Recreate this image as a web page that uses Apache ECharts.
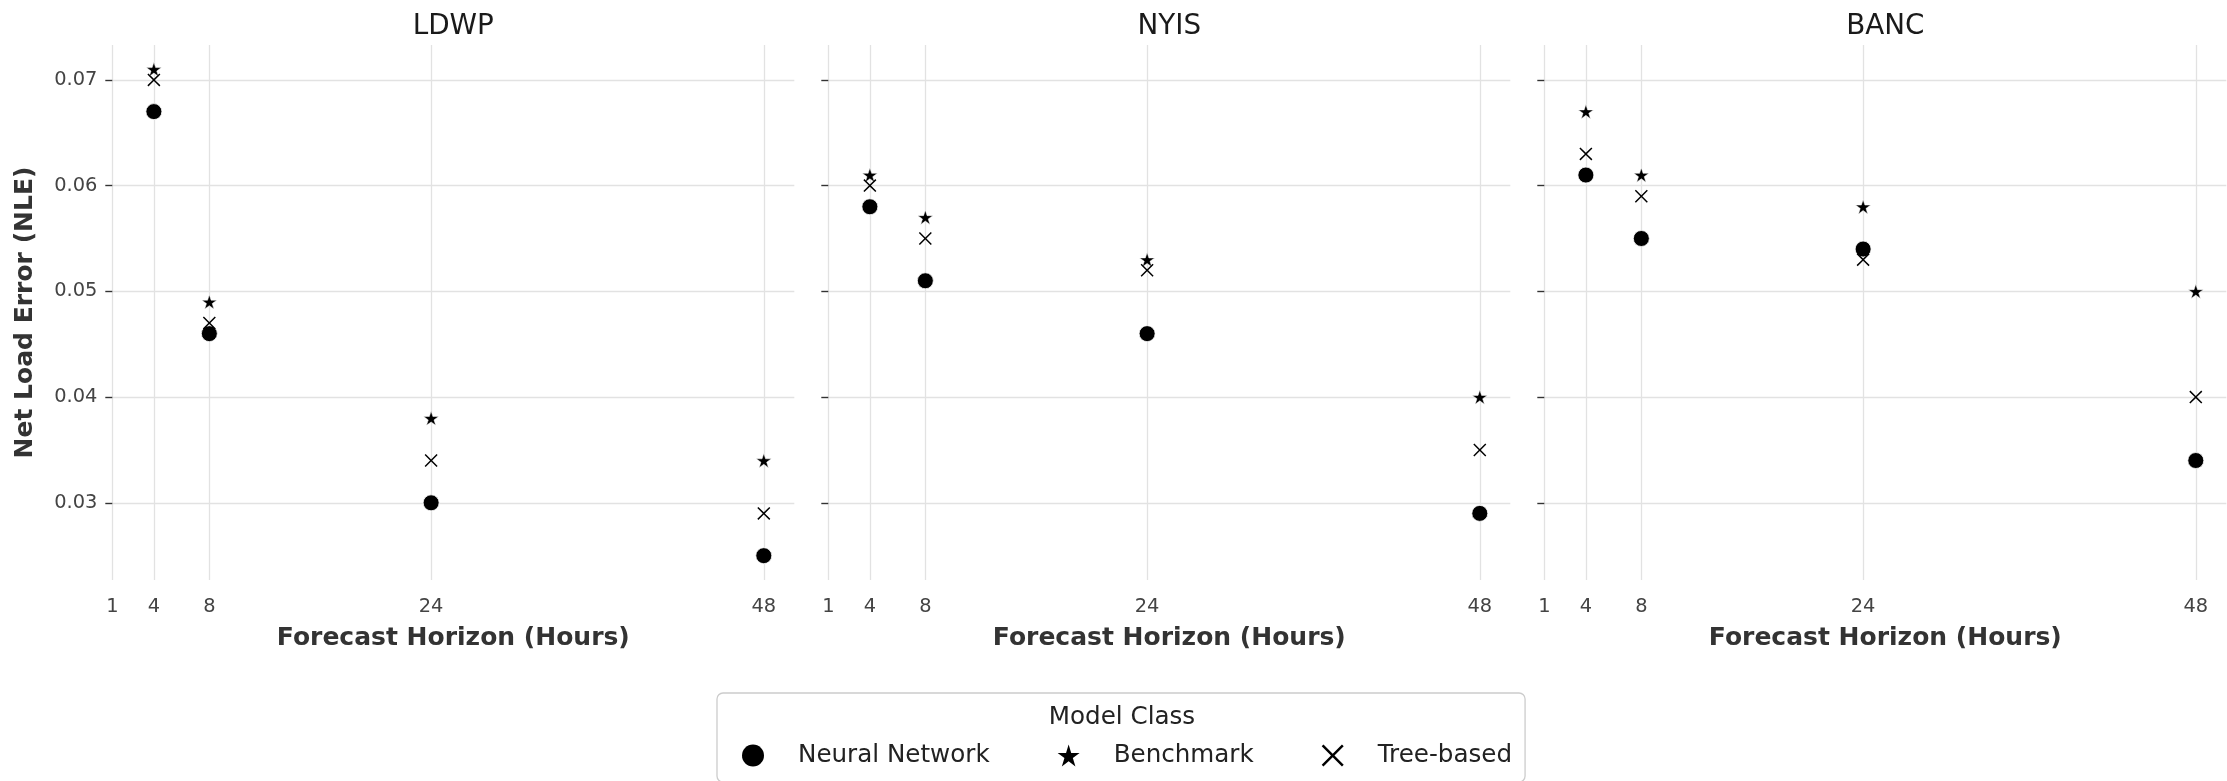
<!DOCTYPE html>
<html>
<head>
<meta charset="utf-8">
<script src="https://cdn.jsdelivr.net/npm/echarts@6/dist/echarts.min.js"></script>
<style>
  html, body { margin: 0; padding: 0; background: #ffffff; }
  #chart { width: 2227px; height: 781px; }
</style>
</head>
<body>
<div id="chart"></div>
<script>
// ---- data ----
const regions = ['LDWP', 'NYIS', 'BANC'];
const horizons = [4, 8, 24, 48];
const xTicks = [1, 4, 8, 24, 48];
const yTicks = [0.03, 0.04, 0.05, 0.06, 0.07];
const modelClasses = ['Neural Network', 'Benchmark', 'Tree-based'];

const ldwpNeural = [0.067, 0.046, 0.030, 0.025];
const ldwpBench  = [0.071, 0.049, 0.038, 0.034];
const ldwpTree   = [0.070, 0.047, 0.034, 0.029];

const nyisNeural = [0.058, 0.051, 0.046, 0.029];
const nyisBench  = [0.061, 0.057, 0.053, 0.040];
const nyisTree   = [0.060, 0.055, 0.052, 0.035];

const bancNeural = [0.061, 0.055, 0.054, 0.034];
const bancBench  = [0.067, 0.061, 0.058, 0.050];
const bancTree   = [0.063, 0.059, 0.053, 0.040];

const regionData = [
  [ldwpNeural, ldwpBench, ldwpTree],
  [nyisNeural, nyisBench, nyisTree],
  [bancNeural, bancBench, bancTree]
];

// ---- styling / layout ----
const FONT = 'DejaVu Sans';
const starPath = 'path://M50,0 L61.2,34.5 L97.6,34.5 L68.2,55.9 L79.4,90.5 L50,69.1 L20.6,90.5 L31.8,55.9 L2.4,34.5 L38.8,34.5 Z';
const xPath = 'path://M0,8 L8,0 L50,42 L92,0 L100,8 L58,50 L100,92 L92,100 L50,58 L8,100 L0,92 L42,50 Z';
const symbols = ['circle', starPath, xPath];
const symbolSizes = [16, 15, 13];
const borders = [0.8, 0.5, 0];

const gridLeft = [112.3, 828.3, 1544.3];
const gridWidth = 682;
const gridTop = 45;
const gridHeight = 535;

const grids = [], xAxes = [], yAxes = [], series = [], graphics = [];

regions.forEach((reg, i) => {
  grids.push({ left: gridLeft[i], top: gridTop, width: gridWidth, height: gridHeight });
  xAxes.push({
    type: 'value', gridIndex: i, min: 1, max: 50.2,
    name: 'Forecast Horizon (Hours)', nameLocation: 'middle', nameGap: 46,
    nameTextStyle: { fontFamily: FONT, fontSize: 25, fontWeight: 'bold', color: '#333333' },
    axisLine: { show: false },
    axisTick: { show: false, customValues: xTicks },
    axisLabel: { customValues: xTicks, margin: 17, fontFamily: FONT, fontSize: 19.4, color: '#444444' },
    splitLine: { show: true, lineStyle: { color: '#e2e2e2', width: 1.3 } }
  });
  yAxes.push({
    type: 'value', gridIndex: i, min: 0.0227, max: 0.0733,
    name: i === 0 ? 'Net Load Error (NLE)' : '', nameLocation: 'middle', nameGap: 74,
    nameTextStyle: { fontFamily: FONT, fontSize: 25, fontWeight: 'bold', color: '#333333' },
    axisLine: { show: false },
    axisTick: { show: true, length: 7, customValues: yTicks, lineStyle: { color: '#333333', width: 1.4 } },
    axisLabel: { show: i === 0, customValues: yTicks, margin: 15, fontFamily: FONT, fontSize: 19.4, color: '#444444',
                 formatter: v => v.toFixed(2) },
    splitLine: { show: true, lineStyle: { color: '#e2e2e2', width: 1.3 } }
  });
  modelClasses.forEach((mc, k) => {
    series.push({
      name: mc, type: 'scatter', xAxisIndex: i, yAxisIndex: i,
      symbol: symbols[k], symbolSize: symbolSizes[k], symbolKeepAspect: true,
      itemStyle: { color: '#000000', borderColor: '#ffffff', borderWidth: borders[k], opacity: 1 },
      emphasis: { disabled: true },
      data: horizons.map((h, j) => [h, regionData[i][k][j]])
    });
  });
  graphics.push({
    type: 'text', x: gridLeft[i] + gridWidth / 2, y: 27,
    style: { text: reg, fontFamily: FONT, fontSize: 27.8, fill: '#1a1a1a', align: 'center', verticalAlign: 'middle' }
  });
});

graphics.push({
  type: 'text', x: 1122, y: 718, z: 100,
  style: { text: 'Model Class', fontFamily: FONT, fontSize: 24.6, fill: '#222222', align: 'center', verticalAlign: 'middle' }
});

const chart = echarts.init(document.getElementById('chart'), null, { renderer: 'canvas' });
chart.setOption({
  backgroundColor: '#ffffff',
  animation: false,
  grid: grids,
  xAxis: xAxes,
  yAxis: yAxes,
  series: series,
  graphic: graphics,
  legend: {
    left: 717, top: 693, orient: 'horizontal',
    itemWidth: 22, itemHeight: 22, itemGap: 68,
    padding: [50, 13, 14, 25],
    borderColor: '#cccccc', borderWidth: 1.3, borderRadius: 6,
    selectedMode: false,
    textStyle: { fontFamily: FONT, fontSize: 24.6, color: '#222222', padding: [0, 0, 0, 29] },
    data: [
      { name: modelClasses[0], icon: 'circle', itemStyle: { borderWidth: 0 } },
      { name: modelClasses[1], icon: starPath, symbolKeepAspect: false, itemStyle: { borderWidth: 0 } },
      { name: modelClasses[2], icon: xPath, itemStyle: { borderWidth: 0 } }
    ]
  }
});
</script>
</body>
</html>
